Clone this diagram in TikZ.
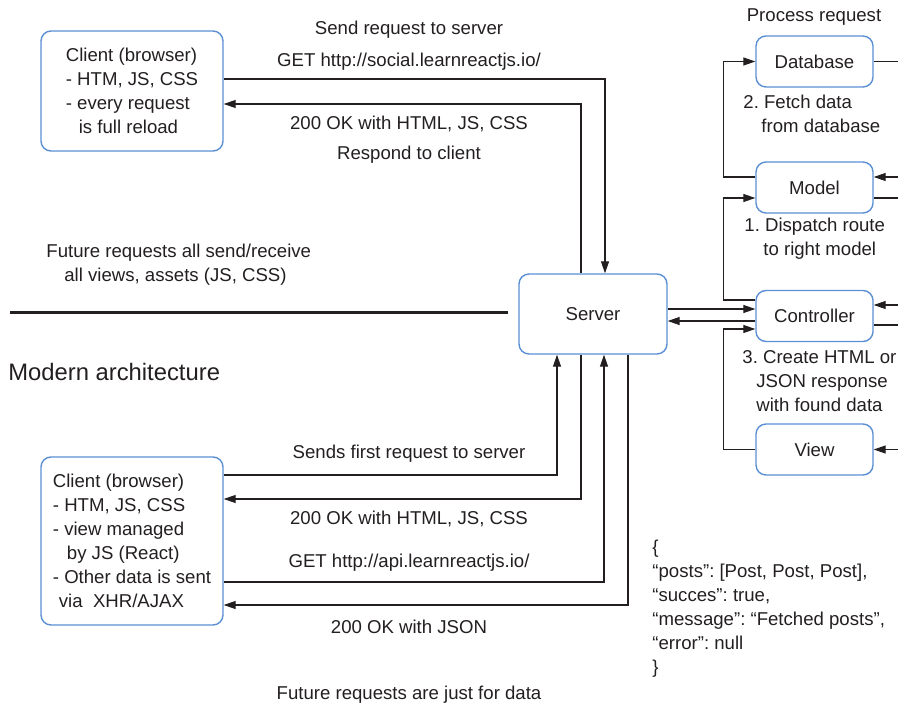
\documentclass[tikz,border=0pt]{standalone}
\usepackage{fontspec}
\setmainfont{Liberation Sans}
\usetikzlibrary{arrows.meta}
\definecolor{boxblue}{HTML}{5A8FD4}
\definecolor{ink}{HTML}{231F20}
\frenchspacing

\begin{document}
\begin{tikzpicture}[x=0.5pt,y=-0.5pt,
  every node/.style={font=\fontsize{9.3}{12}\selectfont,text=ink},
  box/.style={draw=boxblue,line width=0.7pt,rounded corners=5pt,inner sep=0pt},
  note/.style={align=left,anchor=west,inner sep=0pt},
  link/.style={draw=ink,line width=0.6pt},
  arr/.style={link,-{Triangle[length=6pt,width=4pt]}}]
  \useasboundingbox (0,0) rectangle (898,706);
  \coordinate (edge) at (898,0);

  \node[box,minimum width=91pt,minimum height=60pt,align=left] (oldclient) at (132,91)
    {Client (browser)\\- HTM, JS, CSS\\- every request\\\hspace*{6.5pt}is full reload};
  \node[box,minimum width=74pt,minimum height=40pt] (server) at (593,314) {Server};
  \node[box,minimum width=58.5pt,minimum height=25.5pt] (db) at (814.5,61.5) {Database};
  \node[box,minimum width=58.5pt,minimum height=25.5pt] (model) at (814.5,187.5) {Model};
  \node[box,minimum width=58.5pt,minimum height=25.5pt] (ctrl) at (814.5,316) {Controller};
  \node[box,minimum width=58.5pt,minimum height=25.5pt] (view) at (814.5,449.5) {View};
  \node[box,minimum width=91pt,minimum height=84pt,align=left] (newclient) at (132,541)
    {Client (browser)\\- HTM, JS, CSS\\- view managed\\\hspace*{7pt}by JS (React)\\- Other data is sent\\\hspace*{3pt}via\ \ XHR/AJAX};

  \node (sendlbl) at (409,30) {Send request to server};
  \node (getlbl) at (409,62) {GET http://social.learnreactjs.io/};
  \node (oklbl) at (409,124) {200 OK with HTML, JS, CSS};
  \node (resplbl) at (409,155) {Respond to client};
  \node (proclbl) at (814,17) {Process request};
  \node[note] (fetchlbl) at (743,114) {2. Fetch data\\\hspace*{9pt}from database};
  \node[note] (routelbl) at (744,238.5) {1. Dispatch route\\\hspace*{9.5pt}to right model};
  \node[note] (createlbl) at (742,381) {3. Create HTML or\\\hspace*{7pt}JSON response\\\hspace*{7pt}with found data};
  \node[note] (futurelbl) at (46,265) {Future requests all send/receive\\\hspace*{9pt}all views, assets (JS, CSS)};
  \node[note,font=\fontsize{11.9}{14}\selectfont] (modernlbl) at (8,372) {Modern architecture};
  \node (firstlbl) at (409,454) {Sends first request to server};
  \node (ok2lbl) at (409,519) {200 OK with HTML, JS, CSS};
  \node (apilbl) at (409,563) {GET http://api.learnreactjs.io/};
  \node (jsonlbl) at (409,627) {200 OK with JSON};
  \node (datalbl) at (409,695) {Future requests are just for data};
  \node[note] (payload) at (652,608.5)
    {\{\\“posts”: [Post, Post, Post],\\“succes”: true,\\“message”: “Fetched posts”,\\“error”: null\\\}};

  \draw[ink,line width=1.5pt] (10,312) -- (508,312);

  \draw[arr] (oldclient.east |- 0,79) -| (server.north -| 605,0);
  \draw[arr] (server.north -| 581,0) |- (oldclient.east |- 0,104);

  \draw[arr] (server.east |- 0,309) -- (ctrl.west |- 0,309);
  \draw[arr] (ctrl.west |- 0,321) -- (server.east |- 0,321);

  \draw[arr] (model.west |- 0,177) -- ++(-32,0) |- (db.west);
  \draw[arr] (ctrl.west |- 0,300) -- ++(-32,0) |- (model.west |- 0,198);
  \draw[arr] (view.west) -- ++(-32,0) |- (ctrl.west |- 0,329);

  \draw[link] (db.east) -- (edge |- db.east);
  \draw[arr] (edge |- 0,177) -- (model.east |- 0,177);
  \draw[link] (model.east |- 0,198) -- (edge |- 0,198);
  \draw[arr] (edge |- 0,305) -- (ctrl.east |- 0,305);
  \draw[link] (ctrl.east |- 0,325) -- (edge |- 0,325);
  \draw[arr] (edge |- view.east) -- (view.east);

  \draw[arr] (newclient.east |- 0,475) -| (server.south -| 557,0);
  \draw[arr] (server.south -| 581,0) |- (newclient.east |- 0,499);
  \draw[arr] (newclient.east |- 0,582) -| (server.south -| 604,0);
  \draw[arr] (server.south -| 628,0) |- (newclient.east |- 0,605);
\end{tikzpicture}
\end{document}
